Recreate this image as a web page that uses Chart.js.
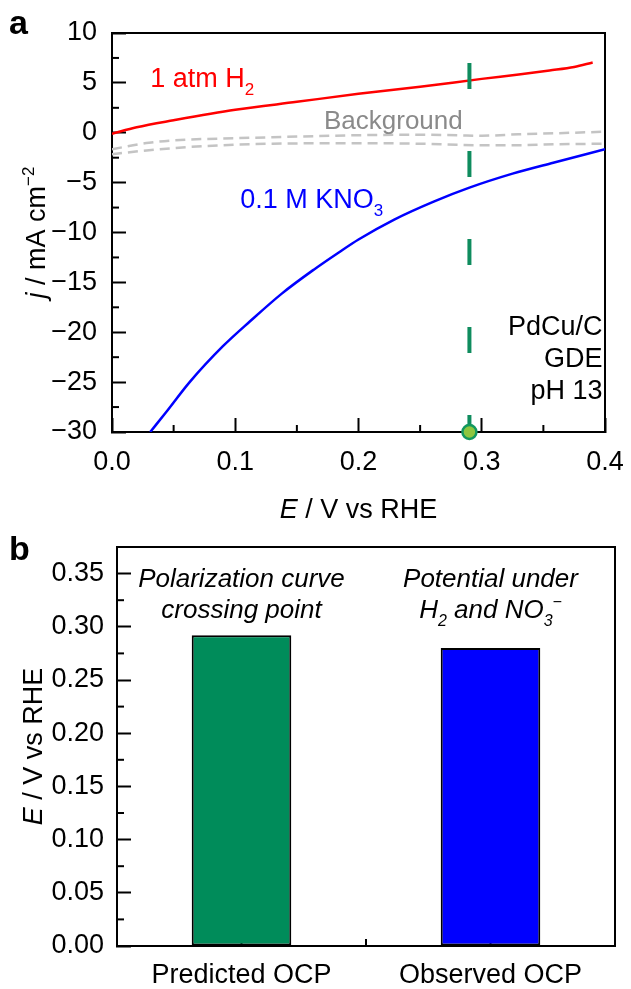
<!DOCTYPE html>
<html>
<head>
<meta charset="utf-8">
<script src="https://cdn.jsdelivr.net/npm/chart.js@4.4.1/dist/chart.umd.min.js"></script>
<style>
  html, body { margin: 0; padding: 0; background: #fff; }
  #wrap { position: relative; width: 631px; height: 989px; }
  canvas { position: absolute; left: 0; }
</style>
</head>
<body>
<div id="wrap">
  <canvas id="cvA" width="631" height="520" style="top:0"></canvas>
  <canvas id="cvB" width="631" height="469" style="top:520px"></canvas>
</div>
<script>
const FONT = "'Liberation Sans', Arial, sans-serif";

// ---- panel a : polarization curves ----
const h2E = [0, 0.02, 0.05, 0.1, 0.15, 0.2, 0.25, 0.3, 0.33, 0.355, 0.375, 0.39];
const h2J = [-0.1, 0.55, 1.25, 2.3, 3.1, 3.9, 4.6, 5.4, 5.85, 6.25, 6.6, 7.05];

const no3E = [0.031, 0.044, 0.063, 0.09, 0.112, 0.138, 0.164, 0.184, 0.2, 0.229, 0.261, 0.29, 0.325, 0.358, 0.4];
const no3J = [-30, -28.0, -25.0, -21.4, -18.9, -16.1, -13.7, -12.0, -10.7, -8.7, -6.9, -5.5, -4.1, -3.0, -1.65];

const bgE   = [0, 0.03, 0.06, 0.1, 0.13, 0.2, 0.25, 0.28, 0.3, 0.33, 0.36, 0.4];
const bgUpJ = [-1.65, -1.0, -0.7, -0.55, -0.45, -0.25, -0.2, -0.25, -0.3, -0.15, -0.05, 0.1];
const bgLoJ = [-2.15, -1.75, -1.45, -1.2, -1.1, -1.05, -1.1, -1.2, -1.25, -1.25, -1.15, -1.1];

const ocpE = 0.29;
const ocpLineJ = [7, -30];

const xMinorA = [0.05, 0.15, 0.25, 0.35];
const yMinorA = [7.5, 2.5, -2.5, -7.5, -12.5, -17.5, -22.5, -27.5];

// ---- panel b : OCP bars ----
const ocpCats = ['Predicted OCP', 'Observed OCP'];
const ocpVals = [0.292, 0.280];
const ocpColors = ['#008c5a', '#0000ff'];
const yMinorB = [0.025, 0.075, 0.125, 0.175, 0.225, 0.275, 0.325];

const pts = (xs, ys) => xs.map((x, i) => ({ x: x, y: ys[i] }));
const minus = v => (v < 0 ? '\u2212' + Math.abs(v) : String(v));

function runFont(r, size) {
  const s = (r.sub || r.sup) ? Math.round(size * 0.62) : size;
  return (r.it ? 'italic ' : '') + s + 'px ' + FONT;
}
function drawRuns(ctx, runs, x, y, align, size, color) {
  ctx.save();
  ctx.fillStyle = color; ctx.textAlign = 'left'; ctx.textBaseline = 'alphabetic';
  let w = 0;
  runs.forEach(r => { ctx.font = runFont(r, size); w += ctx.measureText(r.t).width; });
  let cx = align === 'center' ? x - w / 2 : align === 'right' ? x - w : x;
  runs.forEach(r => {
    ctx.font = runFont(r, size);
    const dy = r.sub ? size * 0.3 : r.sup ? -size * 0.42 : 0;
    ctx.fillText(r.t, cx, y + dy);
    cx += ctx.measureText(r.t).width;
  });
  ctx.restore();
}
function drawRotated(ctx, runs, x, y, size) {
  ctx.save(); ctx.translate(x, y); ctx.rotate(-Math.PI / 2);
  drawRuns(ctx, runs, 0, 0, 'center', size, '#000');
  ctx.restore();
}

const frame = {
  id: 'frame',
  beforeDatasetsDraw(chart) {
    const a = chart.chartArea, ctx = chart.ctx;
    ctx.save(); ctx.strokeStyle = '#000'; ctx.lineWidth = 2;
    ctx.strokeRect(a.left, a.top, a.right - a.left, a.bottom - a.top);
    ctx.restore();
  }
};
const minorTicks = {
  id: 'minorTicks',
  beforeDatasetsDraw(chart, args, opts) {
    const a = chart.chartArea, ctx = chart.ctx;
    ctx.save(); ctx.strokeStyle = '#000'; ctx.lineWidth = 2;
    (opts.x || []).forEach(v => {
      const p = chart.scales.x.getPixelForValue(v);
      ctx.beginPath(); ctx.moveTo(p, a.bottom); ctx.lineTo(p, a.bottom - opts.len); ctx.stroke();
    });
    (opts.y || []).forEach(v => {
      const p = chart.scales.y.getPixelForValue(v);
      ctx.beginPath(); ctx.moveTo(a.left, p); ctx.lineTo(a.left + opts.len, p); ctx.stroke();
    });
    ctx.restore();
  }
};

const tickFont = { family: FONT, size: 27 };
// fixed axis sizes; drop the label overflow padding so the plot box stays put
const fitY = w => s => { s.width = w; s.paddingTop = 0; s.paddingBottom = 0; };
const fitX = h => s => { s.height = h; s.paddingLeft = 0; s.paddingRight = 0; };

// panel a notes
const notesA = {
  id: 'notesA',
  afterDraw(chart) {
    const ctx = chart.ctx, sx = chart.scales.x, sy = chart.scales.y, a = chart.chartArea;
    const X = v => sx.getPixelForValue(v), Y = v => sy.getPixelForValue(v);
    drawRuns(ctx, [{ t: '1 atm H' }, { t: '2', sub: true }], X(0.031), Y(4.57), 'left', 27, '#ff0000');
    drawRuns(ctx, [{ t: 'Background' }], X(0.172), Y(0.35), 'left', 26, '#8a8a8a');
    drawRuns(ctx, [{ t: '0.1 M KNO' }, { t: '3', sub: true }], X(0.104), Y(-7.5), 'left', 27, '#0000ff');
    drawRuns(ctx, [{ t: 'PdCu/C' }], X(0.398), Y(-20.25), 'right', 27, '#000');
    drawRuns(ctx, [{ t: 'GDE' }], X(0.398), Y(-23.45), 'right', 27, '#000');
    drawRuns(ctx, [{ t: 'pH 13' }], X(0.398), Y(-26.7), 'right', 27, '#000');
    drawRuns(ctx, [{ t: 'E', it: true }, { t: ' / V vs RHE' }], (a.left + a.right) / 2, 518, 'center', 27, '#000');
    drawRotated(ctx, [{ t: 'j', it: true }, { t: ' / mA cm' }, { t: '\u22122', sup: true }], 45, (a.top + a.bottom) / 2, 27);
    ctx.save(); ctx.font = 'bold 34px ' + FONT; ctx.fillStyle = '#000';
    ctx.fillText('a', 9, 34); ctx.restore();
  }
};

new Chart(document.getElementById('cvA'), {
  type: 'scatter',
  data: {
    datasets: [
      { label: 'OCP', data: [{ x: ocpE, y: -30 }], pointRadius: 7, pointHoverRadius: 7,
        pointBackgroundColor: '#8dc63f', pointBorderColor: '#12985f', pointBorderWidth: 2.5, clip: false, order: -1 },
      { label: 'OCP line', data: ocpLineJ.map(j => ({ x: ocpE, y: j })), showLine: true,
        borderColor: '#0f8c5e', borderWidth: 4, borderDash: [26, 62], pointRadius: 0, order: 0 },
      { label: '1 atm H2', data: pts(h2E, h2J), showLine: true, borderColor: '#ff0000', borderWidth: 2.5,
        pointRadius: 0, cubicInterpolationMode: 'monotone', order: 2 },
      { label: '0.1 M KNO3', data: pts(no3E, no3J), showLine: true, borderColor: '#0000ff', borderWidth: 2.5,
        pointRadius: 0, cubicInterpolationMode: 'monotone', order: 2 },
      { label: 'Background up', data: pts(bgE, bgUpJ), showLine: true, borderColor: '#c4c4c4', borderWidth: 2.5,
        borderDash: [10, 6], pointRadius: 0, cubicInterpolationMode: 'monotone', order: 3 },
      { label: 'Background down', data: pts(bgE, bgLoJ), showLine: true, borderColor: '#c4c4c4', borderWidth: 2.5,
        borderDash: [10, 6], pointRadius: 0, cubicInterpolationMode: 'monotone', order: 3 }
    ]
  },
  options: {
    responsive: false, animation: false,
    layout: { padding: { left: 0, top: 33, right: 26, bottom: 0 } },
    plugins: { legend: { display: false }, tooltip: { enabled: false },
      minorTicks: { x: xMinorA, y: yMinorA, len: 7 } },
    scales: {
      x: { type: 'linear', min: 0, max: 0.4,
        ticks: { stepSize: 0.1, color: '#000', font: tickFont, padding: 28, maxRotation: 0, callback: v => v.toFixed(1) },
        grid: { drawOnChartArea: false, tickLength: -14, tickWidth: 2, tickColor: '#000' },
        border: { display: true, color: '#000', width: 2 },
        afterFit: fitX(88) },
      y: { type: 'linear', min: -30, max: 10,
        ticks: { stepSize: 5, color: '#000', font: tickFont, padding: 29, callback: v => minus(v) },
        grid: { drawOnChartArea: false, tickLength: -14, tickWidth: 2, tickColor: '#000' },
        border: { display: true, color: '#000', width: 2 },
        afterFit: fitY(112) }
    }
  },
  plugins: [frame, minorTicks, notesA]
});

// panel b notes
const notesB = {
  id: 'notesB',
  afterDraw(chart) {
    const ctx = chart.ctx, sx = chart.scales.x, sy = chart.scales.y, a = chart.chartArea;
    const X = v => sx.getPixelForValue(v), Y = v => sy.getPixelForValue(v);
    drawRuns(ctx, [{ t: 'Polarization curve', it: true }], X(0), Y(0.337), 'center', 26, '#000');
    drawRuns(ctx, [{ t: 'crossing point', it: true }], X(0), Y(0.308), 'center', 26, '#000');
    drawRuns(ctx, [{ t: 'Potential under', it: true }], X(1), Y(0.337), 'center', 26, '#000');
    drawRuns(ctx, [{ t: 'H', it: true }, { t: '2', it: true, sub: true }, { t: ' and NO', it: true },
      { t: '3', it: true, sub: true }, { t: '\u2212', it: true, sup: true }], X(1), Y(0.308), 'center', 26, '#000');
    drawRotated(ctx, [{ t: 'E', it: true }, { t: ' / V vs RHE' }], 42, (a.top + a.bottom) / 2, 27);
    ctx.save(); ctx.font = 'bold 34px ' + FONT; ctx.fillStyle = '#000';
    ctx.fillText('b', 9, 40); ctx.restore();
  }
};

new Chart(document.getElementById('cvB'), {
  type: 'bar',
  data: {
    labels: ocpCats,
    datasets: [{ label: 'OCP', data: ocpVals, backgroundColor: ocpColors, borderColor: '#000',
      borderWidth: 2, borderSkipped: false, barPercentage: 0.4, categoryPercentage: 1 }]
  },
  options: {
    responsive: false, animation: false,
    layout: { padding: { left: 0, top: 27, right: 16, bottom: 0 } },
    plugins: { legend: { display: false }, tooltip: { enabled: false },
      minorTicks: { x: [0.5], y: yMinorB, len: 7 } },
    scales: {
      x: { type: 'category', offset: true,
        ticks: { color: '#000', font: tickFont, padding: 27, maxRotation: 0 },
        grid: { offset: false, drawOnChartArea: false, tickLength: -14, tickWidth: 2, tickColor: '#000' },
        border: { display: true, color: '#000', width: 2 },
        afterFit: fitX(43) },
      y: { type: 'linear', min: 0, max: 0.375,
        ticks: { stepSize: 0.05, includeBounds: false, color: '#000', font: tickFont, padding: 27,
          callback: v => v.toFixed(2) },
        grid: { drawOnChartArea: false, tickLength: -14, tickWidth: 2, tickColor: '#000' },
        border: { display: true, color: '#000', width: 2 },
        afterFit: fitY(117) }
    }
  },
  plugins: [frame, minorTicks, notesB]
});
</script>
</body>
</html>
